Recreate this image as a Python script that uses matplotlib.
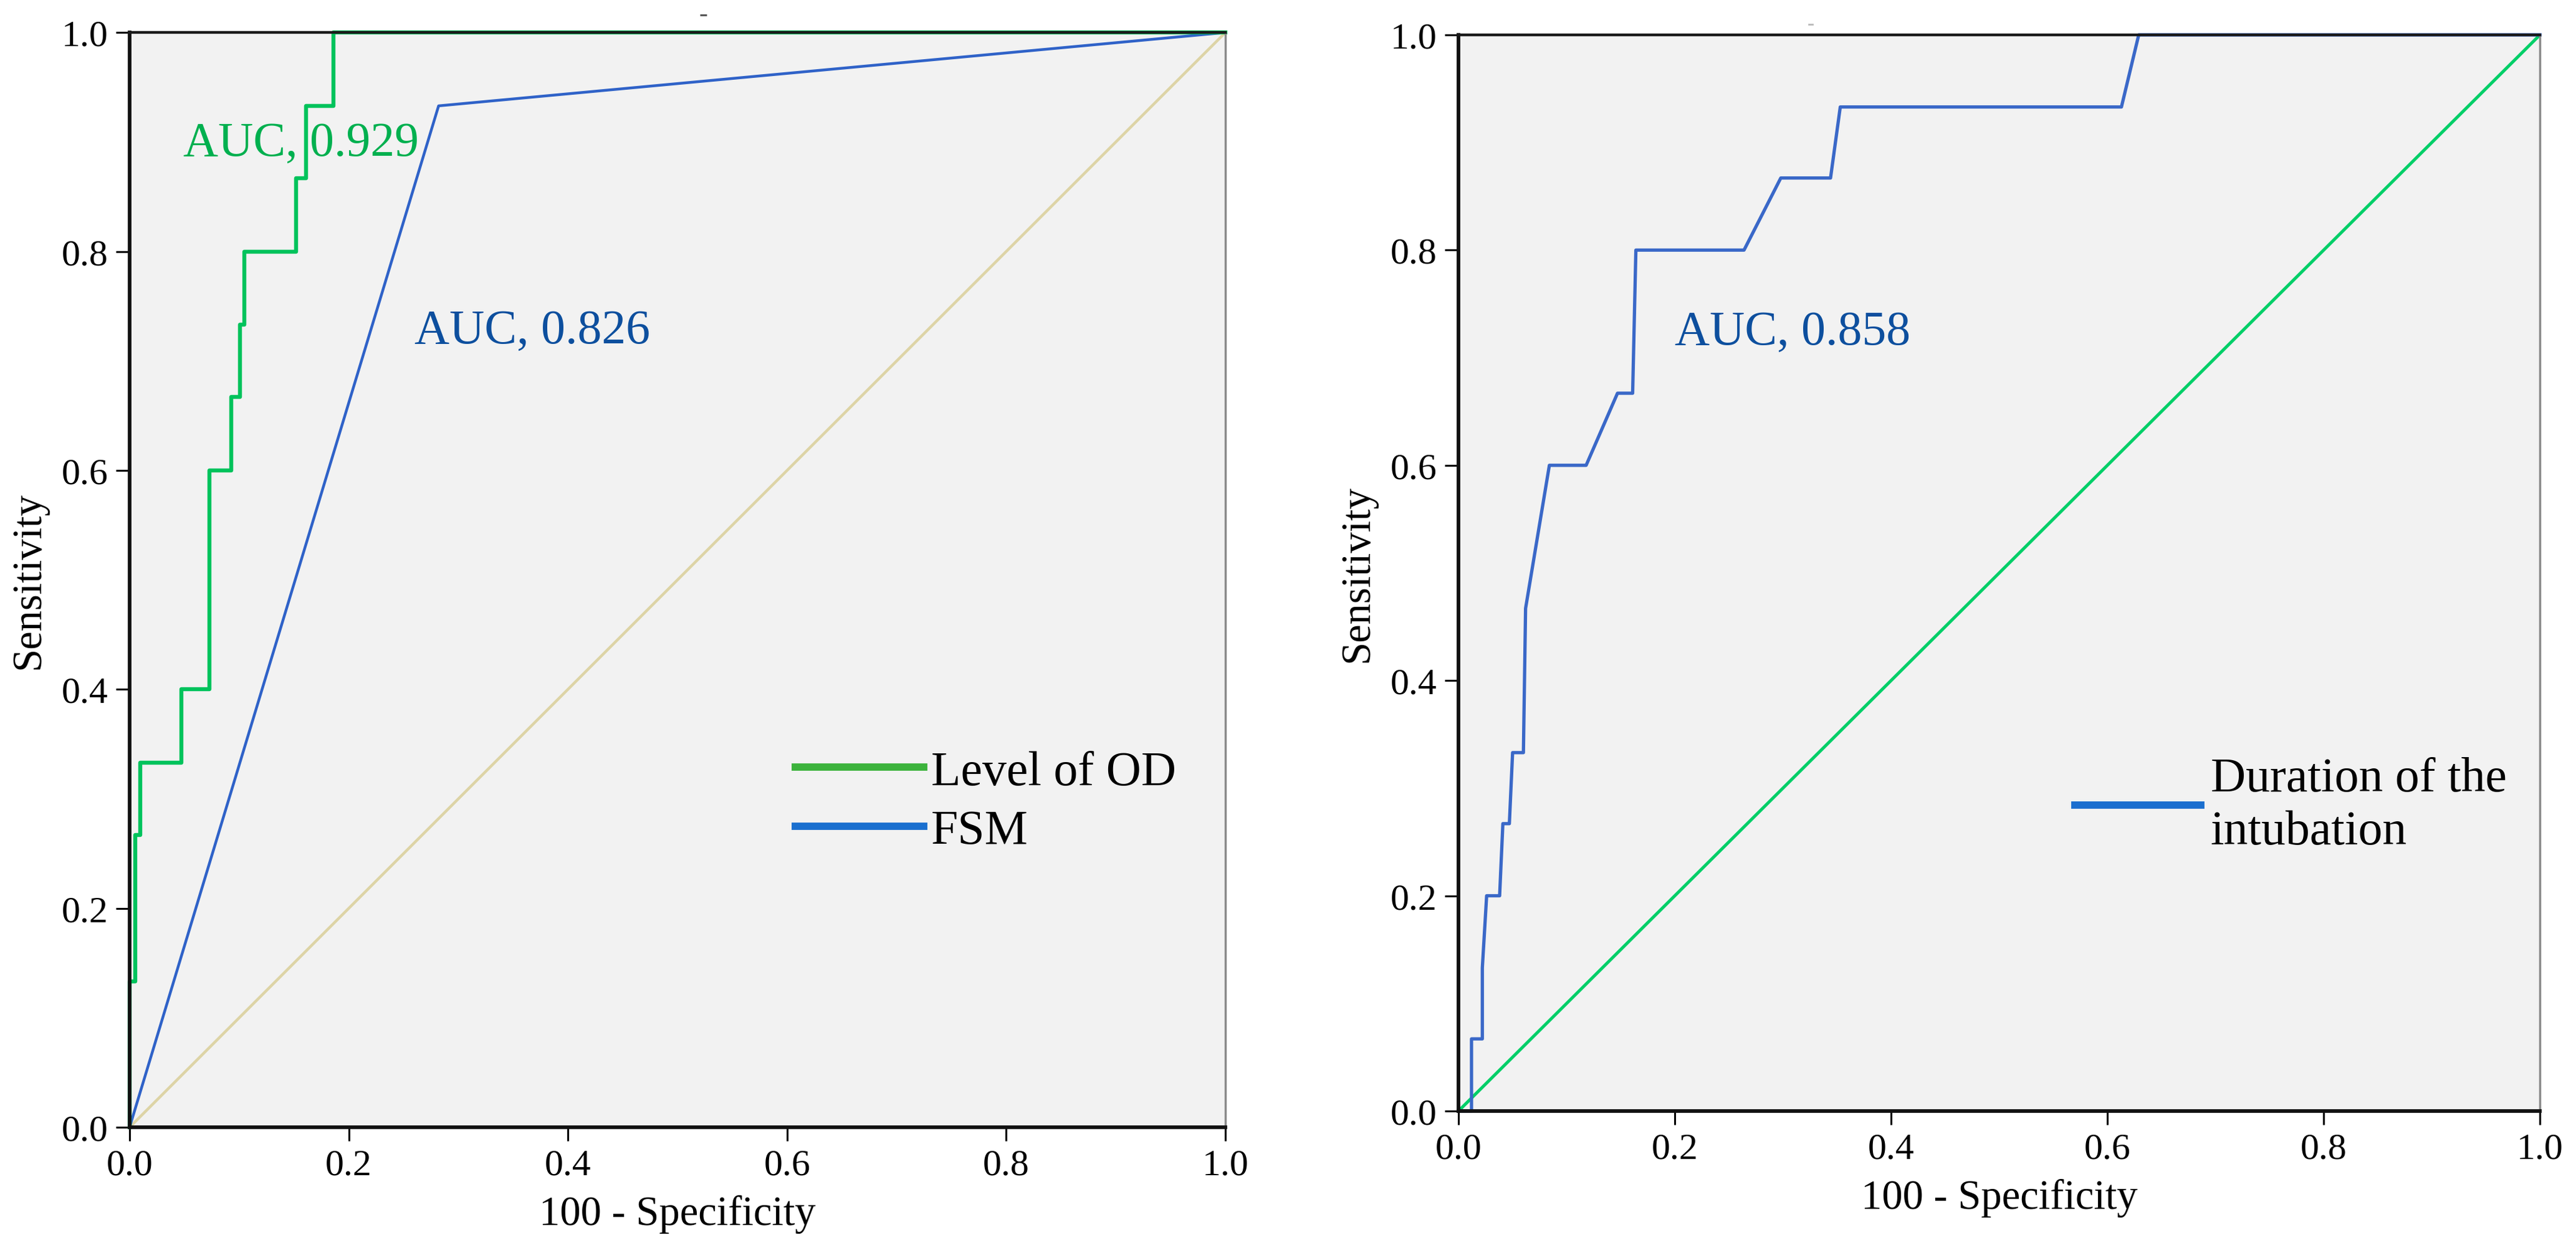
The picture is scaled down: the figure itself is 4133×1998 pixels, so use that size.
import matplotlib
matplotlib.use('Agg')
import matplotlib.pyplot as plt
from matplotlib.lines import Line2D
from matplotlib.ticker import FormatStrFormatter, MultipleLocator

plt.rcParams['font.family'] = ['Liberation Serif', 'DejaVu Serif']

# ── data ──
# left panel: Level of OD (step curve, jumps at each fpr) and FSM
od_fpr = [0.000, 0.005, 0.010, 0.047, 0.073, 0.093, 0.101, 0.105, 0.152, 0.161, 0.186]
od_tpr = [0.133, 0.267, 0.333, 0.400, 0.600, 0.667, 0.733, 0.800, 0.867, 0.933, 1.000]
od_auc = 0.929

fsm_fpr = [0.0, 0.282, 1.0]
fsm_tpr = [0.0, 0.933, 1.0]
fsm_auc = 0.826

# right panel: Duration of the intubation
dur_fpr = [0.000, 0.012, 0.012, 0.022, 0.022, 0.026, 0.038, 0.041, 0.047, 0.050, 0.060, 0.062,
           0.084, 0.118, 0.147, 0.161, 0.164, 0.264, 0.298, 0.344, 0.353, 0.613, 0.629, 1.000]
dur_tpr = [0.000, 0.000, 0.067, 0.067, 0.133, 0.200, 0.200, 0.267, 0.267, 0.333, 0.333, 0.467,
           0.600, 0.600, 0.667, 0.667, 0.800, 0.800, 0.867, 0.867, 0.933, 0.933, 1.000, 1.000]
dur_auc = 0.858

ref_line = [0.0, 1.0]

TICK_FS = 43
LABEL_FS = 48
NOTE_FS = 56

fig = plt.figure(figsize=(41.33, 19.99), dpi=100, facecolor='white')
ax1 = fig.add_axes([0.0503, 0.0945, 0.4254, 0.8789])
ax2 = fig.add_axes([0.5662, 0.1076, 0.4198, 0.8639])


def style_axes(ax):
    ax.set_facecolor('#f2f2f2')
    ax.set_xlim(0, 1)
    ax.set_ylim(0, 1)
    ax.xaxis.set_major_locator(MultipleLocator(0.2))
    ax.yaxis.set_major_locator(MultipleLocator(0.2))
    ax.xaxis.set_major_formatter(FormatStrFormatter('%.1f'))
    ax.yaxis.set_major_formatter(FormatStrFormatter('%.1f'))
    ax.tick_params(direction='out', length=16, width=2.2, pad=9,
                   labelsize=TICK_FS, colors='black')
    for side in ('left', 'bottom'):
        ax.spines[side].set_linewidth(4.2)
        ax.spines[side].set_color('#111111')
    ax.spines['top'].set_linewidth(3.2)
    ax.spines['top'].set_color('#1a1a1a')
    ax.spines['right'].set_linewidth(2.5)
    ax.spines['right'].set_color('#8a8a8a')
    ax.set_xlabel('100 - Specificity', fontsize=LABEL_FS, labelpad=14)
    ax.set_ylabel('Sensitivity', fontsize=LABEL_FS, labelpad=16)


# ── left panel ──
style_axes(ax1)
ax1.plot(ref_line, ref_line, color='#ddd4a6', lw=3.2, zorder=1)
ax1.plot(fsm_fpr, fsm_tpr, color='#2f62c8', lw=3.2, clip_on=False, zorder=2)
ax1.step([0.0] + od_fpr + [1.0], [0.0] + od_tpr + [1.0], where='post',
         color='#00c35c', lw=4.6, clip_on=False, zorder=2)

ax1.text(0.049, 0.888, f'AUC, {od_auc:.3f}', transform=ax1.transAxes,
         fontsize=NOTE_FS, color='#00b04f', ha='left', va='baseline')
ax1.text(0.26, 0.717, f'AUC, {fsm_auc:.3f}', transform=ax1.transAxes,
         fontsize=NOTE_FS, color='#0d4f9e', ha='left', va='baseline')

handles1 = [Line2D([], [], color='#3cb33c', lw=8.5),
            Line2D([], [], color='#1a6fcf', lw=8.5)]
ax1.legend(handles1, ['Level of OD', 'FSM'], loc='center left',
           bbox_to_anchor=(0.6075, 0.297), frameon=False, fontsize=NOTE_FS,
           handlelength=2.65, handletextpad=0.15, labelspacing=0.3,
           borderpad=0, borderaxespad=0)

# ── right panel ──
style_axes(ax2)
ax2.plot(ref_line, ref_line, color='#00cf68', lw=3.6, zorder=1)
ax2.plot(dur_fpr, dur_tpr, color='#3a68c8', lw=3.8, clip_on=False, zorder=2)

ax2.text(0.20, 0.713, f'AUC, {dur_auc:.3f}', transform=ax2.transAxes,
         fontsize=NOTE_FS, color='#0d4f9e', ha='left', va='baseline')

handles2 = [Line2D([], [], color='#1a6fcf', lw=8.5)]
leg2 = ax2.legend(handles2, ['Duration of the\nintubation'], loc='center left',
                  bbox_to_anchor=(0.57, 0.284), frameon=False, fontsize=NOTE_FS,
                  handlelength=2.6, handletextpad=0.2, borderpad=0, borderaxespad=0)
for t in leg2.get_texts():
    t.set_linespacing(1.25)

# faint marks left over above each panel
fig.text(0.273, 0.988, '-', fontsize=30, color='#555555', ha='center', va='center')
fig.text(0.703, 0.980, '-', fontsize=24, color='#bbbbbb', ha='center', va='center')

fig.savefig('out.png', dpi=100, facecolor='white')
